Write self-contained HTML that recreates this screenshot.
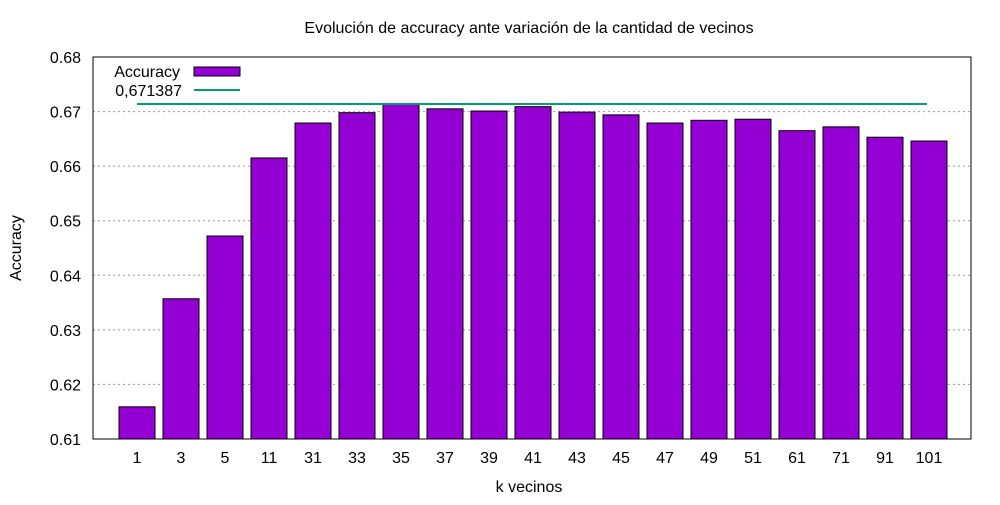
<!DOCTYPE html>
<html><head><meta charset="utf-8"><style>
body{margin:0;background:#fff}
svg text{font-family:"Liberation Sans",Arial,sans-serif;font-size:16px;fill:#000}
</style></head><body>
<svg id="c" width="1000" height="500"></svg>
<script>
const categories=["1","3","5","11","31","33","35","37","39","41","43","45","47","49","51","61","71","91","101"];
const accuracy=[0.6159,0.6357,0.6472,0.6615,0.6679,0.6698,0.6714,0.6705,0.6701,0.6709,0.6699,0.6694,0.6679,0.6684,0.6686,0.6665,0.6672,0.6653,0.6646];
const refValue=0.671387;
const yTicks=[0.61,0.62,0.63,0.64,0.65,0.66,0.67,0.68];
const L=93,R=971,T=57,B=439,ymin=0.61,ymax=0.68;
const y=v=>B-(v-ymin)/(ymax-ymin)*(B-T);
const x=i=>137+i*44;
const ns="http://www.w3.org/2000/svg",svg=document.getElementById('c');
function el(t,a,txt){const e=document.createElementNS(ns,t);for(const k in a)e.setAttribute(k,a[k]);if(txt!=null)e.textContent=txt;svg.appendChild(e);return e;}
let e;
yTicks.forEach(v=>{
 if(v>ymin&&v<ymax){e=el('line',{x1:L,x2:R,y1:y(v),y2:y(v),stroke:'#999','stroke-dasharray':'2,3','stroke-width':1});
 }
 e=el('text',{x:L-12,y:y(v)+6,'text-anchor':'end'},v.toFixed(2));
 
});
categories.forEach((c,i)=>{
 e=el('rect',{x:x(i)-18,y:y(accuracy[i]),width:36,height:B-y(accuracy[i]),fill:'#9400d3',stroke:'#000','stroke-width':1});
 
 e=el('text',{x:x(i),y:B+24,'text-anchor':'middle'},c);
 
});
e=el('line',{x1:x(0),x2:x(categories.length-1)-2,y1:y(refValue),y2:y(refValue),stroke:'#009e73','stroke-width':2});

e=el('rect',{x:L,y:T,width:R-L,height:B-T,fill:'none',stroke:'#000','stroke-width':1});

e=el('text',{x:180,y:77,'text-anchor':'end'},'Accuracy');

e=el('rect',{x:194,y:67,width:46,height:9,fill:'#9400d3',stroke:'#000'});

e=el('text',{x:182,y:96,'text-anchor':'end'},'0,671387');

e=el('line',{x1:194,x2:240,y1:90,y2:90,stroke:'#009e73','stroke-width':2});

e=el('text',{x:529,y:33,'text-anchor':'middle'},'Evolución de accuracy ante variación de la cantidad de vecinos');

e=el('text',{x:529,y:492,'text-anchor':'middle'},'k vecinos');

e=el('text',{x:21,y:248,'text-anchor':'middle',transform:'rotate(-90 21 248)'},'Accuracy');

</script>
</body></html>
